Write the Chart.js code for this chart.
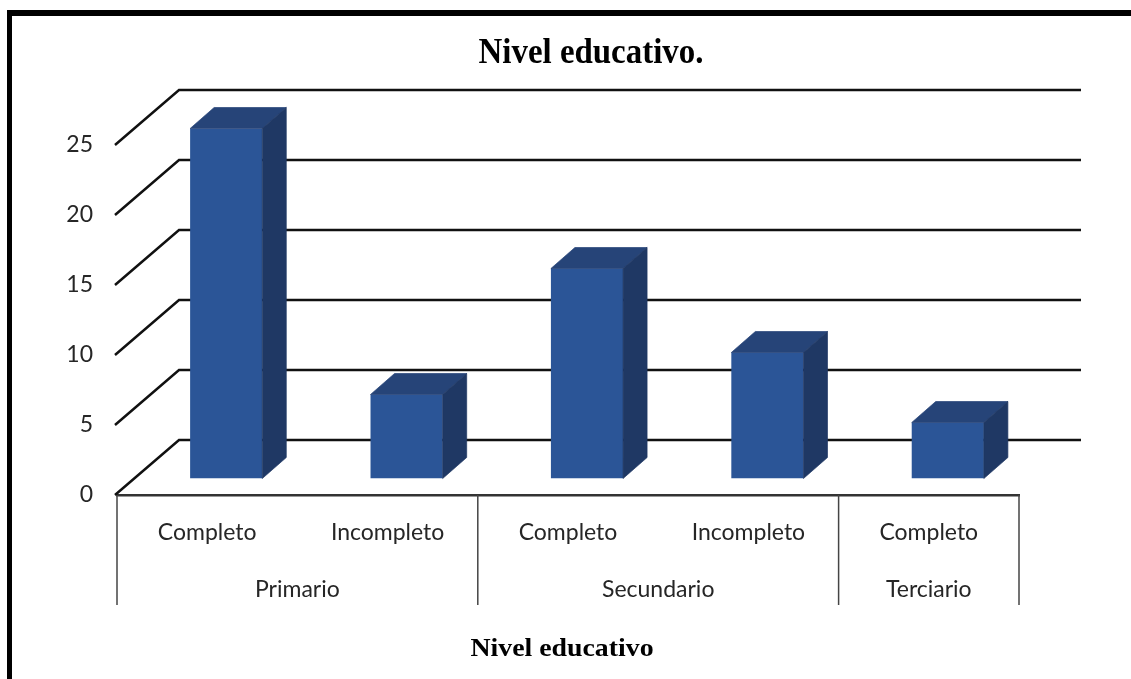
<!DOCTYPE html>
<html lang="es">
<head>
    <meta charset="UTF-8">
    <script src="https://cdn.jsdelivr.net/npm/chart.js@4/dist/chart.umd.min.js"></script>
    <title>Nivel educativo</title>
    <style>
        body { margin: 0; background: #fff; }
        #frame { position: absolute; left: 7px; top: 10px; right: 0; bottom: 0; border-left: 5px solid #000; border-top: 6px solid #000; }
        #myChart { position: absolute; left: 0; top: 0; filter: blur(0.5px); }
    </style>
</head>
<body>
    <div id="frame"></div>
    <canvas id="myChart" width="1131" height="679"></canvas>
    <script>

        var categories = ['Completo', 'Incompleto', 'Completo', 'Incompleto', 'Completo'];
        var values = [25, 6, 15, 9, 4];
        var groups = ['Primario', 'Secundario', 'Terciario'];
        var groupCenters = [1, 3, 4.5];
        var groupEdges = [0, 2, 4, 5];
        var chartTitle = 'Nivel educativo.';
        var axisTitle = 'Nivel educativo';

        var wallX = 62, wallY = -55;   // offset of the back wall
        var barX = 19, barY = -16.5;   // bars stand inside the floor
        var sideX = 24, sideY = -21;   // bar depth

        var labelFont = { family: 'Lato', size: 23 };

        function line(ctx, x1, y1, x2, y2) {
            ctx.beginPath();
            ctx.moveTo(x1, y1);
            ctx.lineTo(x2, y2);
            ctx.stroke();
        }

        function face(ctx, points, color) {
            ctx.fillStyle = color;
            ctx.strokeStyle = color;
            ctx.lineWidth = 0.7;
            ctx.beginPath();
            points.forEach(function (p, i) { i ? ctx.lineTo(p[0], p[1]) : ctx.moveTo(p[0], p[1]); });
            ctx.closePath();
            ctx.fill();
            ctx.stroke();
        }

        function squeezedText(ctx, text, x, y, xScale) {
            ctx.save();
            ctx.translate(x, y);
            ctx.scale(xScale, 1);
            ctx.fillText(text, 0, 0);
            ctx.restore();
        }

        var box3d = {
            id: 'box3d',
            beforeDatasetsDraw: function (chart) {
                var ctx = chart.ctx, y = chart.scales.y, area = chart.chartArea;
                ctx.save();
                ctx.strokeStyle = '#111';
                ctx.lineWidth = 2.5;
                y.ticks.forEach(function (t) {
                    var py = y.getPixelForValue(t.value);
                    ctx.beginPath();
                    ctx.moveTo(area.left - 2, py);
                    ctx.lineTo(area.left + wallX, py + wallY);
                    ctx.lineTo(area.right + wallX, py + wallY);
                    ctx.stroke();
                });
                ctx.restore();
            },
            beforeDatasetDraw: function (chart) {
                chart.ctx.save();
                chart.ctx.translate(barX, barY);
            },
            afterDatasetDraw: function (chart, args) {
                var ctx = chart.ctx;
                args.meta.data.forEach(function (bar) {
                    var p = bar.getProps(['x', 'y', 'base', 'width'], true);
                    var l = p.x - p.width / 2, r = p.x + p.width / 2;
                    face(ctx, [[l, p.y], [r, p.y], [r + sideX, p.y + sideY], [l + sideX, p.y + sideY]], '#264478');
                    face(ctx, [[r, p.y], [r + sideX, p.y + sideY], [r + sideX, p.base + sideY], [r, p.base]], '#1f3864');
                });
                ctx.restore();
            },
            afterDraw: function (chart) {
                var ctx = chart.ctx, x2 = chart.scales.x2, area = chart.chartArea;
                ctx.save();
                ctx.strokeStyle = '#444';
                ctx.lineWidth = 1.5;
                groupEdges.forEach(function (e) {
                    var px = x2.getPixelForValue(e);
                    line(ctx, px, area.bottom, px, x2.bottom);
                });
                ctx.fillStyle = '#000';
                ctx.textAlign = 'center';
                ctx.textBaseline = 'middle';
                ctx.font = 'bold 35px "Liberation Serif"';
                squeezedText(ctx, chartTitle, 591, 54, 0.94);
                ctx.font = 'bold 26px "Liberation Serif"';
                squeezedText(ctx, axisTitle, 562, 649, 1.07);
                ctx.restore();
            }
        };

        new Chart(document.getElementById('myChart').getContext('2d'), {
            type: 'bar',
            data: {
                labels: categories,
                datasets: [{
                    label: axisTitle,
                    data: values,
                    backgroundColor: '#2b5597',
                    barPercentage: 0.4,
                    categoryPercentage: 1
                }]
            },
            plugins: [box3d],
            options: {
                responsive: false,
                animation: false,
                layout: { padding: { left: 0, right: 112, top: 145, bottom: 74 } },
                plugins: { legend: { display: false }, tooltip: { enabled: false } },
                scales: {
                    y: {
                        min: 0,
                        max: 25,
                        afterFit: function (s) { s.width = 117; },
                        border: { display: false },
                        grid: { display: false },
                        ticks: { stepSize: 5, padding: 16, color: '#262626', font: labelFont }
                    },
                    x: {
                        afterFit: function (s) { s.height = 55; },
                        border: { display: true, color: '#333', width: 2.5 },
                        grid: { display: false },
                        ticks: { padding: 16, color: '#262626', font: labelFont, maxRotation: 0, autoSkip: false }
                    },
                    x2: {
                        type: 'linear',
                        position: 'bottom',
                        offset: false,
                        min: 0,
                        max: 5,
                        afterFit: function (s) { s.height = 55; },
                        afterBuildTicks: function (s) {
                            s.ticks = groupCenters.map(function (v) { return { value: v }; });
                        },
                        border: { display: false },
                        grid: { display: false, offset: false },
                        ticks: {
                            padding: 18,
                            color: '#262626',
                            font: labelFont,
                            maxRotation: 0,
                            autoSkip: false,
                            callback: function (v) { return groups[groupCenters.indexOf(v)]; }
                        }
                    }
                }
            }
        });
    </script>
</body>
</html>
